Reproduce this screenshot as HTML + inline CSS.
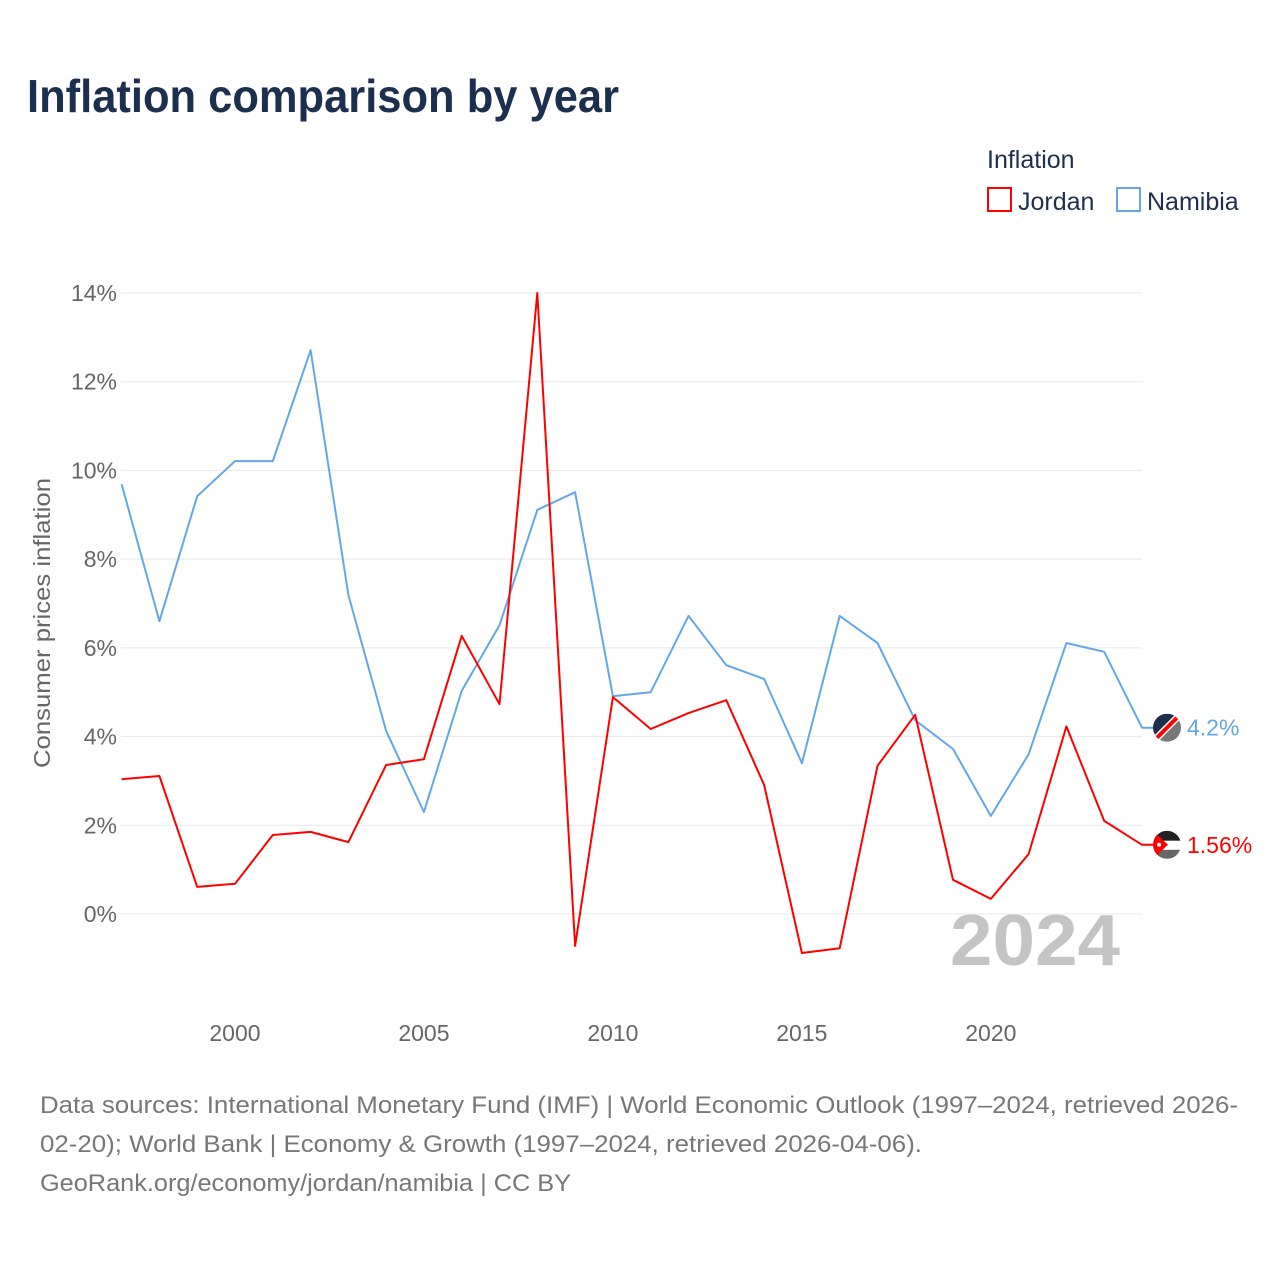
<!DOCTYPE html>
<html><head><meta charset="utf-8">
<style>
html,body{margin:0;padding:0;background:#fff;}
body{width:1280px;height:1280px;position:relative;font-family:"Liberation Sans",sans-serif;overflow:hidden;}
</style></head>
<body>
<svg id="chart" width="1280" height="1280" xmlns="http://www.w3.org/2000/svg" style="position:absolute;left:0;top:0">
<defs id="defs"></defs>
<text x="27" y="112" font-size="46" font-weight="bold" fill="#1c2f4f" textLength="592" lengthAdjust="spacingAndGlyphs">Inflation comparison by year</text>
<text x="987" y="168" font-size="25" fill="#1c2f4f">Inflation</text>
<g>
<rect x="988" y="188" width="23" height="23" fill="none" stroke="#ff0000" stroke-width="2"/>
<text x="1018" y="210" font-size="25" fill="#1c2f4f">Jordan</text></g>
<g>
<rect x="1117" y="188" width="23" height="23" fill="none" stroke="#64a6e8" stroke-width="2"/>
<text x="1147" y="210" font-size="25" fill="#1c2f4f">Namibia</text></g>
<text transform="translate(50,623) rotate(-90)" text-anchor="middle" font-size="23" fill="#666" textLength="290" lengthAdjust="spacingAndGlyphs">Consumer prices inflation</text>
<text x="1120" y="965" text-anchor="end" font-size="72" font-weight="bold" fill="#c4c4c4" textLength="170" lengthAdjust="spacingAndGlyphs">2024</text>
<g id="grid"></g><g id="xt"></g><g id="lines"></g>
<g font-size="24" fill="#777">
<text x="40" y="1113" textLength="1198" lengthAdjust="spacingAndGlyphs">Data sources: International Monetary Fund (IMF) | World Economic Outlook (1997–2024, retrieved 2026-</text>
<text x="40" y="1152" textLength="882" lengthAdjust="spacingAndGlyphs">02-20); World Bank | Economy &amp; Growth (1997–2024, retrieved 2026-04-06).</text>
<text x="40" y="1191" textLength="531" lengthAdjust="spacingAndGlyphs">GeoRank.org/economy/jordan/namibia | CC BY</text>
</g>
</svg>
<script>
const years=[1997,1998,1999,2000,2001,2002,2003,2004,2005,2006,2007,2008,2009,2010,2011,2012,2013,2014,2015,2016,2017,2018,2019,2020,2021,2022,2023,2024];
const jordan=[3.04,3.11,0.61,0.68,1.78,1.85,1.62,3.36,3.49,6.27,4.73,14.0,-0.72,4.89,4.17,4.53,4.82,2.91,-0.88,-0.77,3.34,4.49,0.77,0.34,1.35,4.23,2.10,1.56];
const namibia=[9.69,6.6,9.42,10.21,10.21,12.71,7.19,4.13,2.3,5.03,6.51,9.11,9.51,4.91,5.0,6.72,5.61,5.3,3.4,6.72,6.11,4.37,3.72,2.21,3.6,6.11,5.91,4.2];
const yTicks=[0,2,4,6,8,10,12,14];
const xTicks=[2000,2005,2010,2015,2020];
const NS="http://www.w3.org/2000/svg";
const X=v=>121.6+(v-1997)*(1142-121.6)/27;
const Y=v=>914-v*(914-293)/14;
function mk(t,a,p){const e=document.createElementNS(NS,t);for(const k in a)e.setAttribute(k,a[k]);p.appendChild(e);return e;}
const grid=document.getElementById('grid');
yTicks.forEach(t=>{
 const l=mk('line',{x1:121,x2:1142,y1:Y(t),y2:Y(t),stroke:'#e8e8e8','stroke-width':1},grid);
 
 
 const tx=mk('text',{x:117,y:Y(t)+8,'text-anchor':'end','font-size':23,fill:'#666'},grid);
 tx.textContent=t+'%';
 
 
});
const xt=document.getElementById('xt');
xTicks.forEach(t=>{
 const tx=mk('text',{x:X(t),y:1041,'text-anchor':'middle','font-size':23,fill:'#666'},xt);
 tx.textContent=t;
 
 
});
const lines=document.getElementById('lines');
const defs=document.getElementById('defs');
function series(vals,color,name,label){
 let d=vals.map((v,i)=>(i?'L':'M')+X(years[i]).toFixed(1)+','+Y(v).toFixed(1)).join(' ');
 const last=vals[vals.length-1];
 const cy=Y(last);
 d+=' L1160,'+cy.toFixed(1);
 const p=mk('path',{d:d,fill:'none',stroke:color,'stroke-width':2,'stroke-linejoin':'round'},lines);
 
 
 const cp=mk('clipPath',{id:'clip-'+name},defs);
 mk('circle',{cx:1167,cy:cy,r:14},cp);
 const g=mk('g',{'clip-path':'url(#clip-'+name+')'},lines);
 
 
 if(name==='jordan'){
  mk('rect',{x:1153,y:cy-14,width:28,height:10,fill:'#222'},g);
  mk('rect',{x:1153,y:cy-4,width:28,height:9,fill:'#fff'},g);
  mk('rect',{x:1153,y:cy+5,width:28,height:10,fill:'#666'},g);
  mk('path',{d:'M1153,'+(cy-14)+' L1168,'+cy+' L1153,'+(cy+14)+' Z',fill:'#ff0000'},g);
  mk('circle',{cx:1159,cy:cy,r:2,fill:'#fff'},g);
 }else{
  mk('path',{d:'M1153,'+(cy-14)+' L1181,'+(cy-14)+' L1153,'+(cy+14)+' Z',fill:'#1c2f4f'},g);
  mk('path',{d:'M1181,'+(cy-14)+' L1181,'+(cy+14)+' L1153,'+(cy+14)+' Z',fill:'#777'},g);
  mk('line',{x1:1153,y1:cy+14,x2:1181,y2:cy-14,stroke:'#fff','stroke-width':7},g);
  mk('line',{x1:1153,y1:cy+14,x2:1181,y2:cy-14,stroke:'#ff0000','stroke-width':4},g);
 }
 const t=mk('text',{x:1187,y:cy+8,'font-size':23,fill:color},lines);
 t.textContent=label;
 
 
}
series(namibia,'#64a6e8','namibia','4.2%');
series(jordan,'#ff0000','jordan','1.56%');
</script>
</body></html>
